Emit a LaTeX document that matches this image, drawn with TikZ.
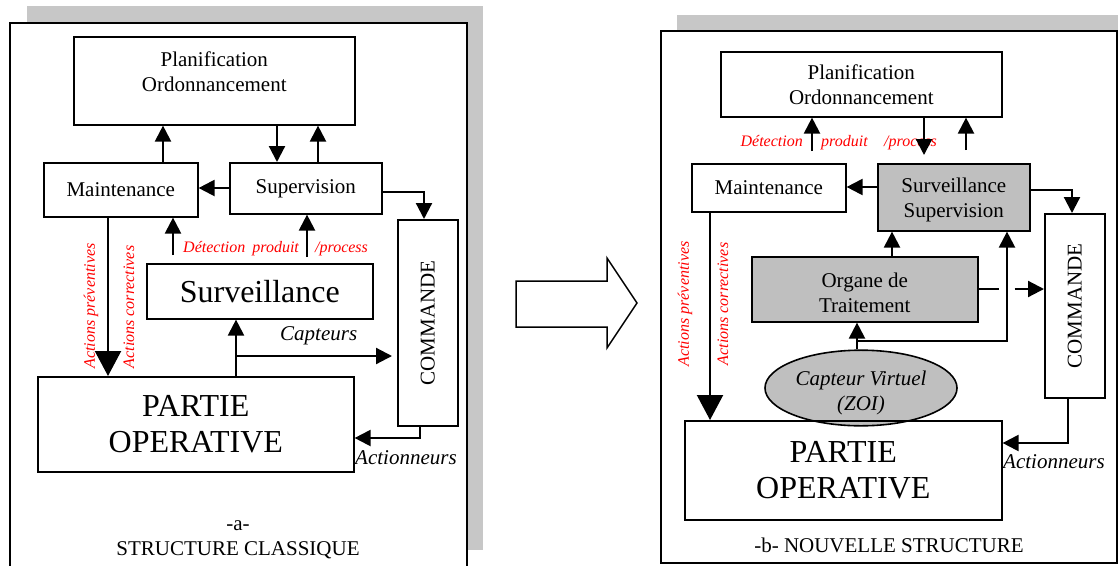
\documentclass[tikz,border=0pt]{standalone}
\usepackage{fontspec}
\setmainfont{Liberation Serif}
\usetikzlibrary{arrows.meta,shapes.geometric}

\begin{document}
\begin{tikzpicture}[x=1pt,y=-1pt,
  box/.style={draw, line width=1.6pt, anchor=north west, inner sep=0pt, align=center, font=\fontsize{21}{25}\selectfont},
  sz/.style 2 args={minimum width=#1pt, minimum height=#2pt},
  big/.style={font=\fontsize{32}{36}\selectfont},
  grey/.style={fill=black!25},
  arr/.style={line width=2.2pt, -{Triangle[length=16pt,width=16pt]}},
  bigarr/.style={line width=2.2pt, -{Triangle[length=25pt,width=26pt]}},
  ln/.style={line width=2.2pt},
  redlbl/.style={text=red, inner sep=0pt, font=\fontsize{16}{19}\selectfont\itshape},
  lbl/.style={inner sep=0pt, font=\fontsize{21}{25}\selectfont},
  itl/.style={lbl, font=\fontsize{21}{25}\selectfont\itshape},
  shadow/.style={fill=black!22},
  frame/.style={draw, line width=1.6pt, fill=white}]
\useasboundingbox (0,0) rectangle (1118,565);

\fill[shadow] (27,6) rectangle (483,550);
\draw[frame] (10,23) rectangle (467,575);
\fill[shadow] (677,15) rectangle (1130,560);
\draw[frame] (661,31) rectangle (1117,563);

\draw[line width=1.5pt] (516,281) -- (607,281) -- (607,258) -- (637,303) -- (607,348) -- (607,327) -- (516,327) -- cycle;

\node[box, sz={281}{88}, text depth=18pt] (planL) at (73,36) {Planification\\Ordonnancement};
\node[box, sz={154}{54}] (maintL) at (43,162) {Maintenance};
\node[box, sz={152}{51}] (supL) at (229,162) {Supervision};
\node[box, big, sz={226}{55}] (survL) at (146,263) {Surveillance};
\node[box, sz={60}{206}] (cmdL) at (397,219) {\rotatebox{90}{COMMANDE}};
\node[box, big, sz={316}{95}] (poL) at (37,376) {PARTIE\\OPERATIVE};

\node[redlbl, anchor=base west] (detL) at (183,252) {Détection\hspace{3pt} produit};
\node[redlbl, anchor=base west] (procL) at (315,252) {/process};
\node[redlbl, rotate=90] (prevL) at (91,306) {Actions préventives};
\node[redlbl, rotate=90] (corrL) at (129,307) {Actions correctives};
\node[itl, anchor=base west] (captL) at (280,340) {Capteurs};
\node[itl, anchor=base west] (actL) at (355,464) {Actionneurs};
\node[lbl, align=center, anchor=base] (titL) at (238,555) {-a-\\STRUCTURE CLASSIQUE};

\draw[arr] (maintL.north -| 163,0) -- (planL.south -| 163,0);
\draw[arr] (planL.south -| 277,0) -- (supL.north -| 277,0);
\draw[arr] (supL.north -| 318,0) -- (planL.south -| 318,0);
\draw[arr] (supL.west |- 0,188) -- (maintL.east |- 0,188);
\draw[arr] (supL.east |- 0,192) -| (cmdL.north -| 424,0);
\draw[arr, shorten <=8pt] (survL.north -| 173,0) -- (maintL.south -| 173,0);
\draw[arr, shorten <=6pt] (survL.north -| 307,0) -- (supL.south -| 307,0);
\draw[bigarr] (maintL.south -| 108,0) -- (poL.north -| 108,0);
\draw[arr] (poL.north -| 236,0) -- (survL.south -| 236,0);
\coordinate (capL) at (236,356);
\draw[arr, shorten >=5pt] (capL) -- (cmdL.west |- capL);
\draw[arr] (cmdL.south -| 420,0) |- (poL.east |- 0,438);

\node[box, sz={281}{65}] (planR) at (720,51) {Planification\\Ordonnancement};
\node[box, sz={154}{48}] (maintR) at (691,163) {Maintenance};
\node[box, grey, sz={152}{67}, text height=45.5pt] (survR) at (877,163) {Surveillance\\Supervision};
\node[box, grey, sz={226}{65}, text height=47.5pt] (orgR) at (751,256) {Organe de\\Traitement};
\node[draw, grey, ellipse, line width=1.6pt, inner sep=0pt, sz={192}{69}, align=center, text height=49pt, font=\fontsize{21}{25}\selectfont\itshape] (capR) at (861,388) {Capteur Virtuel\\(ZOI)};
\node[box, sz={60}{184}] (cmdR) at (1044,213) {\rotatebox{90}{COMMANDE}};
\node[box, big, sz={317}{99}] (poR) at (684,420) {PARTIE\\OPERATIVE};

\node[redlbl, anchor=base east] (detR) at (803,146) {Détection};
\node[redlbl, anchor=base west] (prodR) at (821,146) {produit};
\node[redlbl, anchor=base west] (procR) at (884,146) {/process};
\node[redlbl, rotate=90] (prevR) at (685,304) {Actions préventives};
\node[redlbl, rotate=90] (corrR) at (723,304) {Actions correctives};
\node[itl, anchor=base west] (actR) at (1003,468) {Actionneurs};
\node[lbl, anchor=base] (titR) at (889,552) {-b- NOUVELLE STRUCTURE};

\draw[arr, shorten <=12pt] (maintR.north -| 812,0) -- (planR.south -| 812,0);
\draw[arr, shorten >=8pt] (planR.south -| 924,0) -- (survR.north -| 924,0);
\draw[arr, shorten <=13pt] (survR.north -| 966,0) -- (planR.south -| 966,0);
\draw[arr] (survR.west |- 0,187) -- (maintR.east |- 0,187);
\draw[arr] (survR.east |- 0,190) -| (cmdR.north -| 1072,0);
\draw[bigarr] (maintR.south -| 710,0) -- (poR.north -| 710,0);
\draw[arr] (orgR.north -| 892,0) -- (survR.south -| 892,0);
\draw[arr] (capR.north -| 857,0) -- (orgR.south -| 857,0);
\coordinate (jR) at (857,341);
\draw[arr] (jR) -| (survR.south -| 1007,0);
\draw[ln] (orgR.east |- 0,289) -- ++(20,0);
\draw[arr] (orgR.east |- 0,289) ++(36,0) -- (cmdR.west |- 0,289);
\draw[arr] (cmdR.south -| 1068,0) |- (poR.east |- 0,443);
\end{tikzpicture}
\end{document}
